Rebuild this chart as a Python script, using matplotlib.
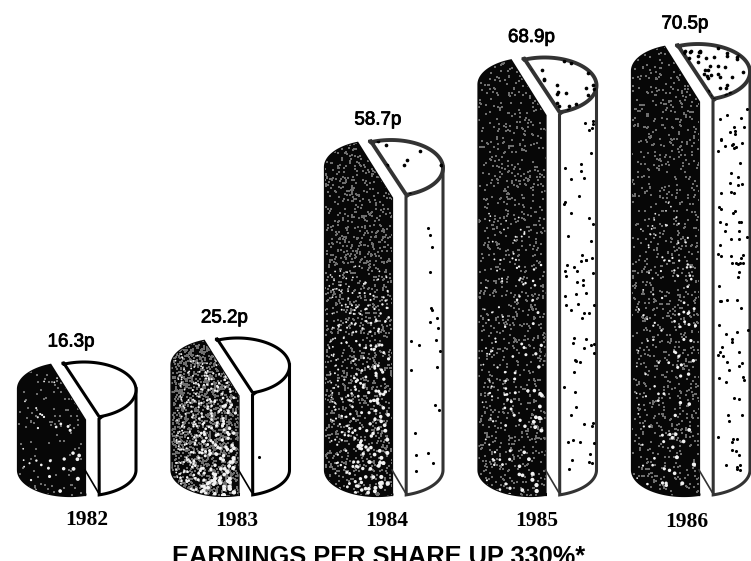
import numpy as np
import matplotlib
matplotlib.use('Agg')
import matplotlib.pyplot as plt
import matplotlib.patheffects as pe
from matplotlib.patches import Polygon

years = ['1982', '1983', '1984', '1985', '1986']
earnings = [16.3, 25.2, 58.7, 68.9, 70.5]
title = 'EARNINGS PER SHARE UP 330%*'

# amount of flecking on each cylinder: white on dark slice, black on white slice
dark_flecks = [35, 330, 260, 120, 110]
wall_flecks = [0, 1, 22, 70, 95]
face_flecks = [0, 0, 14, 30, 70]
halftone = [110, 1500, 1300, 1000, 1000]

BASE_Y = 496
LEFT0 = 18
STEP = 153.5
RISE = [-0.000492, 0.12508, -1.8485, 133.03]


def rise(v):
    # the cylinders grow faster than the pence figures, so a curve rather than a line
    return np.polyval(RISE, v)


def arc(cx, cy, rx, ry, a0, a1, n=40):
    t = np.radians(np.linspace(a0, a1, n))
    return np.column_stack([cx + rx * np.cos(t), cy - ry * np.sin(t)])


def scatter_pts(n, seed):
    # sin hash gives a repeatable grainy spread between 0 and 1
    i = np.arange(1, n + 1) + seed * 1000
    u = np.sin(i * 12.9898) * 43758.5453
    w = np.sin(i * 78.233) * 24634.6345
    return u - np.floor(u), w - np.floor(w)


fig = plt.figure(figsize=(7.51, 5.61), dpi=100)
ax = fig.add_axes([0, 0, 1, 1])
ax.set_xlim(0, 751)
ax.set_ylim(561, 0)
ax.axis('off')

for i, (year, val) in enumerate(zip(years, earnings)):
    x0 = LEFT0 + STEP * i
    top = BASE_Y - rise(val)
    tall = val > 50
    edge = '#333333' if tall else 'black'

    # left slice
    pts = np.vstack([
        arc(x0 + 52, top + 27, 52, 26, 180, 112),
        [[x0 + 67, top + 58], [x0 + 67, BASE_Y]],
        arc(x0 + 52, BASE_Y - 26, 52, 26, -73, -180),
    ])
    dark = Polygon(pts, closed=True, fc='#070707', ec='#070707', lw=1.6, zorder=2)
    ax.add_patch(dark)

    # halftone grain keeps to the lower part of the tall slices as well
    gx, gy = scatter_pts(halftone[i], i + 1)
    s = ax.scatter(x0 + gx * 68, top + gy * (BASE_Y - top), s=1.3, c='#6e6e6e',
                   marker='s', linewidths=0, zorder=3)
    s.set_clip_path(dark)

    # white blotches sit mostly low down on the tall slices
    fx, fy = scatter_pts(dark_flecks[i], i + 11)
    low = top + (BASE_Y - top) * (0.35 if tall else 0.1)
    s = ax.scatter(x0 + 4 + fx * 60, low + fy * (BASE_Y - low), s=1.5 + 9 * fx * fy, c='#f2f2f2',
                   marker='o', linewidths=0, zorder=3)
    s.set_clip_path(dark)

    # right slice, side wall
    body = np.vstack([
        [[x0 + 118, top + 28], [x0 + 118, BASE_Y - 26]],
        arc(x0 + 66, BASE_Y - 26, 52, 26, 0, -73),
        [[x0 + 81, top + 57]],
    ])
    wall = Polygon(body, closed=True, fc='white', ec=edge, lw=2.2, zorder=4)
    ax.add_patch(wall)
    ax.plot([x0 + 67, x0 + 80], [BASE_Y - 26, BASE_Y - 4], color=edge, lw=1.2, zorder=4)

    wx, wy = scatter_pts(wall_flecks[i], i + 21)
    s = ax.scatter(x0 + 84 + wx * 32, top + 60 + wy * (BASE_Y - top - 85), s=5, c='black',
                   linewidths=0, zorder=5)
    s.set_clip_path(wall)

    # right slice, top face
    face_pts = np.vstack([
        [[x0 + 45, top]],
        arc(x0 + 66, top + 28, 52, 28, 114, -73, n=60),
    ])
    face = Polygon(face_pts, closed=True, fc='white', ec=edge, lw=2.2 if not tall else 2.8,
                   zorder=6, joinstyle='bevel')
    ax.add_patch(face)

    tx, ty = scatter_pts(face_flecks[i], i + 31)
    s = ax.scatter(x0 + 45 + tx * 73, top + ty * 58, s=7, c='black', linewidths=0, zorder=7)
    s.set_clip_path(face)

    txt = ax.text(x0 + 53, top - 20, f'{val}p', ha='center', va='center', fontsize=13.5,
                  family='Liberation Sans', color='black', zorder=8)
    txt.set_path_effects([pe.withStroke(linewidth=0.6, foreground='black')])

    ax.text(87 + 150 * i, 520 + 0.5 * i, year, ha='center', va='center', fontsize=15.5,
            family='Liberation Serif', fontweight='bold', color='black', zorder=8)

# the heading runs off the bottom edge of the sheet
ax.text(379, 564, title, ha='center', va='baseline', fontsize=18.3,
        family='Liberation Sans', fontweight='bold', color='black', zorder=8, clip_on=False)

fig.savefig('out.png', dpi=100)
